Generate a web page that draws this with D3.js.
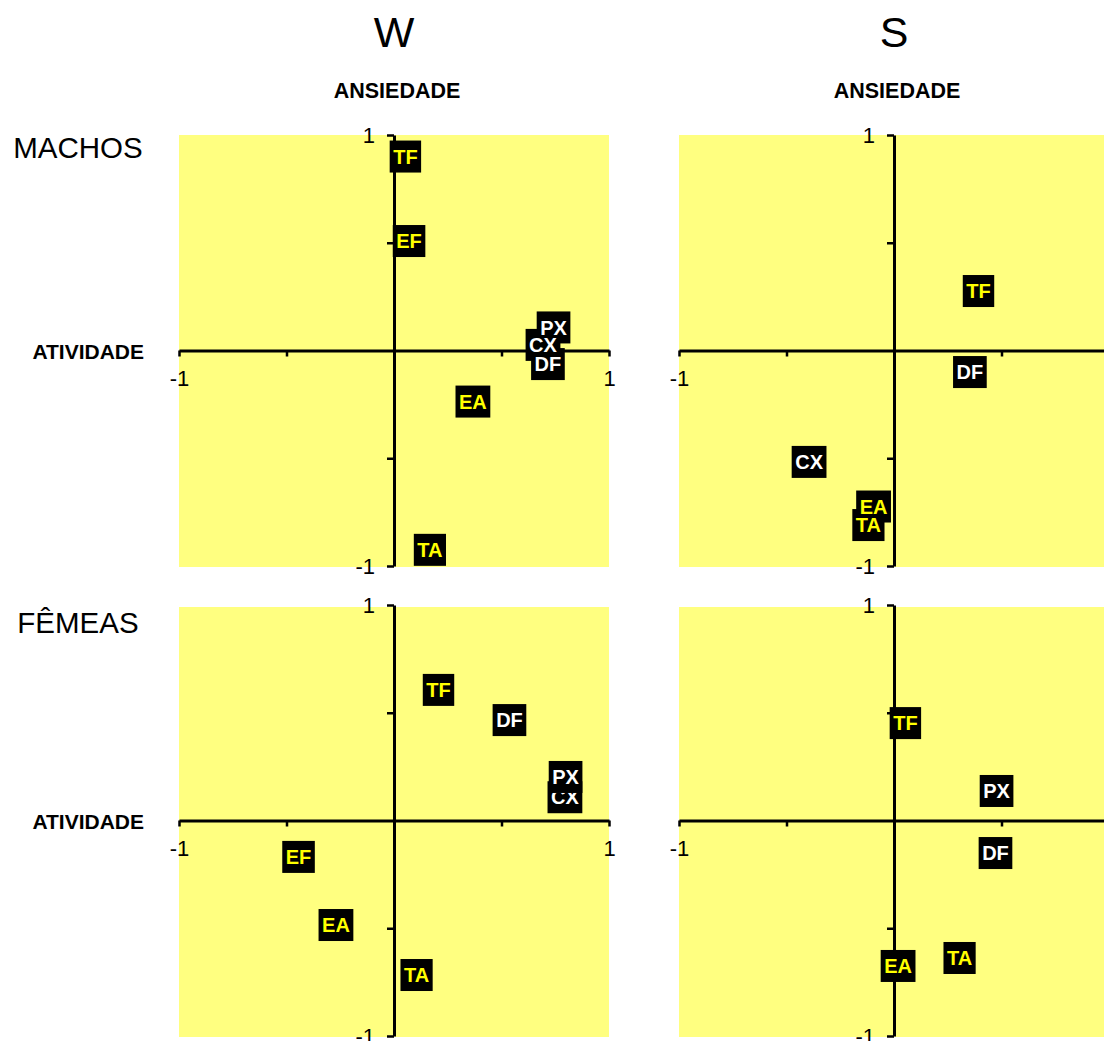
<!DOCTYPE html>
<html>
<head>
<meta charset="utf-8">
<script src="https://cdn.jsdelivr.net/npm/d3@7"></script>
<style>
  html, body { margin: 0; padding: 0; background: #ffffff; }
  svg { display: block; font-family: "Liberation Sans", Arial, Helvetica, sans-serif; }
</style>
</head>
<body>
<svg id="chart" width="1104" height="1041"></svg>
<script>
// ---- data ----
const columnTitles = ["W", "S"];
const rowTitles = ["MACHOS", "FÊMEAS"];
const yAxisTitle = "ANSIEDADE";
const xAxisTitle = "ATIVIDADE";
const tickValues = [-1, -0.5, 0.5, 1];

const wMachosLabels = ["TF", "EF", "EA", "TA", "PX", "CX", "DF"];
const wMachosX = [0.053, 0.07, 0.367, 0.167, 0.742, 0.693, 0.716];
const wMachosY = [0.90, 0.508, -0.237, -0.925, 0.107, 0.026, -0.063];

const sMachosLabels = ["TF", "DF", "CX", "EA", "TA"];
const sMachosX = [0.393, 0.353, -0.395, -0.095, -0.119];
const sMachosY = [0.276, -0.10, -0.517, -0.724, -0.81];

const wFemeasLabels = ["TF", "DF", "CX", "PX", "EF", "EA", "TA"];
const wFemeasX = [0.207, 0.537, 0.795, 0.798, -0.444, -0.27, 0.105];
const wFemeasY = [0.606, 0.466, 0.108, 0.202, -0.169, -0.485, -0.717];

const sFemeasLabels = ["TF", "PX", "DF", "EA", "TA"];
const sFemeasX = [0.053, 0.477, 0.472, 0.019, 0.305];
const sFemeasY = [0.452, 0.137, -0.151, -0.675, -0.638];

// ---- layout / style ----
const svg = d3.select("#chart");
const panelW = 430, panelH = 431;
const panelLefts = [179, 679];
const panelTops = [135, 605];
const bg = "#ffff80";
const yellowText = ["TF", "EF", "EA", "TA"];

const panels = [
  { r: 0, c: 0, labels: wMachosLabels, xs: wMachosX, ys: wMachosY, textsOnTop: true },
  { r: 0, c: 1, labels: sMachosLabels, xs: sMachosX, ys: sMachosY, textsOnTop: true },
  { r: 1, c: 0, labels: wFemeasLabels, xs: wFemeasX, ys: wFemeasY, textsOnTop: false },
  { r: 1, c: 1, labels: sFemeasLabels, xs: sFemeasX, ys: sFemeasY, textsOnTop: false }
];

// column titles
columnTitles.forEach((t, c) => {
  const cx = panelLefts[c] + panelW / 2;
  svg.append("text").attr("x", cx).attr("y", 47)
    .attr("text-anchor", "middle").attr("font-size", 43).attr("fill", "#000").text(t);
});

// row titles
const rowBaselines = [158, 633];
rowTitles.forEach((t, r) => {
  svg.append("text").attr("x", 78).attr("y", rowBaselines[r])
    .attr("text-anchor", "middle").attr("font-size", 29.5).attr("fill", "#000").text(t);
});

panels.forEach(p => {
  const left = panelLefts[p.c], top = panelTops[p.r];
  const x = d3.scaleLinear().domain([-1, 1]).range([left, left + panelW]);
  const y = d3.scaleLinear().domain([1, -1]).range([top, top + panelH]);
  const g = svg.append("g");

  g.append("rect").attr("x", left).attr("y", top + (p.r === 1 ? 2 : 0))
    .attr("width", panelW).attr("height", panelH + (p.r === 1 ? -1 : 1)).attr("fill", bg);

  // axis titles
  if (p.r === 0) {
    svg.append("text").attr("x", x(0) + 3).attr("y", 98)
      .attr("text-anchor", "middle").attr("font-size", 21.5).attr("font-weight", "bold")
      .attr("fill", "#000").text(yAxisTitle);
  }
  if (p.c === 0) {
    svg.append("text").attr("x", 144).attr("y", y(0) + 8)
      .attr("text-anchor", "end").attr("font-size", 21).attr("font-weight", "bold")
      .attr("fill", "#000").text(xAxisTitle);
  }

  const fmt = d => (d === -1 ? "-1" : d === 1 ? "1" : "");

  const xAxis = g.append("g").attr("transform", `translate(0,${y(0)})`)
    .call(d3.axisBottom(x).tickValues(tickValues).tickSize(6).tickSizeOuter(0).tickFormat(fmt));
  xAxis.select(".domain").attr("stroke-width", 3);
  xAxis.selectAll(".tick line").attr("stroke-width", 2.5);
  xAxis.selectAll(".tick text").attr("y", 20).attr("font-size", 22)
    .attr("font-family", "Liberation Sans, Arial, sans-serif").attr("fill", "#000");

  const yAxis = g.append("g").attr("transform", `translate(${x(0)},0)`)
    .call(d3.axisLeft(y).tickValues(tickValues).tickSize(7).tickSizeOuter(0).tickFormat(fmt));
  yAxis.select(".domain").attr("stroke-width", 3);
  yAxis.selectAll(".tick line").attr("stroke-width", 2.5);
  yAxis.selectAll(".tick text").attr("x", -19).attr("font-size", 22)
    .attr("font-family", "Liberation Sans, Arial, sans-serif").attr("fill", "#000");

  // labels
  const pts = p.labels.map((l, i) => ({ l, x: p.xs[i], y: p.ys[i] }));
  const lg = g.selectAll("g.lab").data(pts).enter().append("g").attr("class", "lab")
    .attr("transform", d => `translate(${x(d.x)},${y(d.y)})`);
  const textLayer = g.append("g");
  lg.each(function(d) {
    const gg = d3.select(this);
    const rect = gg.append("rect").attr("fill", "#000");
    const host = p.textsOnTop
      ? textLayer.append("g").attr("transform", `translate(${x(d.x)},${y(d.y)})`)
      : gg;
    const t = host.append("text").attr("text-anchor", "middle").attr("y", 7.2)
      .attr("font-size", 20).attr("font-weight", "bold")
      .attr("fill", yellowText.includes(d.l) ? "#ffff00" : "#ffffff").text(d.l);
    const w = t.node().getComputedTextLength() + 7;
    rect.attr("x", -w / 2).attr("y", -16).attr("width", w).attr("height", 32);
  });
});
</script>
</body>
</html>
